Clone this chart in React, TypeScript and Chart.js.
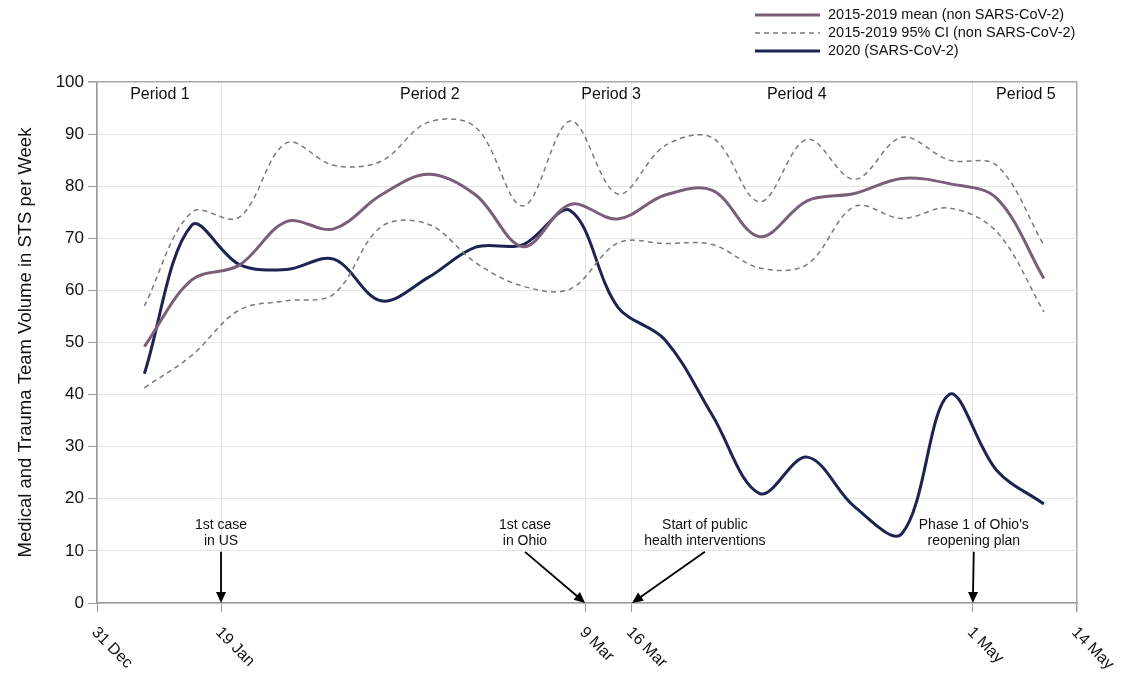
import React, { useEffect, useRef } from 'react';
import { Chart, registerables } from 'chart.js';

Chart.register(...registerables);

// ---------- data ----------
const weekIndex = [1, 2, 3, 4, 5, 6, 7, 8, 9, 10, 11, 12, 13, 14, 15, 16, 17, 18, 19, 20];
const mean2015_2019 = [49.2, 62, 64.8, 73.2, 71.8, 78.3, 82.3, 78.3, 68.4, 76.5, 73.7, 78.3, 79.2, 70.3, 77.2, 78.6, 81.5, 80.5, 77.7, 62.3];
const ciUpper = [57, 75, 74, 88.3, 84, 84.8, 92.3, 91.3, 76.2, 92.5, 78.5, 87.8, 89.3, 77, 89, 81.3, 89.4, 85, 84, 68.7];
const ciLower = [41.3, 47.5, 56.2, 58, 59.3, 72.2, 72.7, 65.3, 60.8, 60.3, 69.1, 69, 68.8, 64.3, 65, 76.1, 73.8, 75.8, 71.3, 55.9];
const sars2020 = [44, 72.5, 65, 64, 66, 58, 62.5, 68.3, 68.8, 75.3, 56.8, 50.5, 36, 21, 28, 18.5, 13.3, 40, 25.5, 19];

const xTickWeeks = [0, 2.62, 10.31, 11.3, 18.5, 20.7];
const xTickLabels = ['31 Dec', '19 Jan', '9 Mar', '16 Mar', '1 May', '14 May'];

const periodLabels = ['Period 1', 'Period 2', 'Period 3', 'Period 4', 'Period 5'];
const periodWeeks = [1.33, 7.03, 10.86, 14.78, 19.62];

const legendLabels = ['2015-2019 mean (non SARS-CoV-2)', '2015-2019 95% CI (non SARS-CoV-2)', '2020 (SARS-CoV-2)'];
const yTitle = 'Medical and Trauma Team Volume in STS per Week';

// annotations: text lines, text centre (week), arrow target (week)
const annotationTexts = [
  ['1st case', 'in US'],
  ['1st case', 'in Ohio'],
  ['Start of public', 'health interventions'],
  ["Phase 1 of Ohio's", 'reopening plan'],
];
const annotationTextWeeks = [2.62, 9.04, 12.84, 18.52];
const annotationTargetWeeks = [2.62, 10.31, 11.3, 18.5];

const FONT = "'Liberation Sans', Arial, Helvetica, sans-serif";
const MEAN_COLOR = '#7a5f78';
const CI_COLOR = '#7a7a7a';
const COVID_COLOR = '#1c2452';

function drawArrow(ctx: CanvasRenderingContext2D, x1: number, y1: number, x2: number, y2: number) {
  const dx = x2 - x1;
  const dy = y2 - y1;
  const len = Math.sqrt(dx * dx + dy * dy);
  const ux = dx / len;
  const uy = dy / len;
  const head = 11;
  const half = 5;
  ctx.save();
  ctx.strokeStyle = '#000';
  ctx.fillStyle = '#000';
  ctx.lineWidth = 1.8;
  ctx.beginPath();
  ctx.moveTo(x1, y1);
  ctx.lineTo(x2 - ux * head * 0.8, y2 - uy * head * 0.8);
  ctx.stroke();
  const bx = x2 - ux * head;
  const by = y2 - uy * head;
  ctx.beginPath();
  ctx.moveTo(x2, y2);
  ctx.lineTo(bx - uy * half, by + ux * half);
  ctx.lineTo(bx + uy * half, by - ux * half);
  ctx.closePath();
  ctx.fill();
  ctx.restore();
}

const decorPlugin = {
  id: 'decor',
  afterDraw(chart: any) {
    const ctx: CanvasRenderingContext2D = chart.ctx;
    const xs = chart.scales.x;
    const ys = chart.scales.y;
    const area = chart.chartArea;

    ctx.save();
    // x tick labels rotated +45deg
    ctx.fillStyle = '#111';
    ctx.font = `16px ${FONT}`;
    ctx.textAlign = 'left';
    ctx.textBaseline = 'middle';
    xTickWeeks.forEach((w, i) => {
      const px = xs.getPixelForValue(w);
      ctx.save();
      ctx.translate(px - 3, area.bottom + 27);
      ctx.rotate(Math.PI / 4);
      ctx.fillText(xTickLabels[i], 0, 0);
      ctx.restore();
    });

    // y title
    ctx.save();
    ctx.translate(26, (area.top + area.bottom) / 2);
    ctx.rotate(-Math.PI / 2);
    ctx.textAlign = 'center';
    ctx.textBaseline = 'middle';
    ctx.font = `18.5px ${FONT}`;
    ctx.fillText(yTitle, 0, 0);
    ctx.restore();

    // period labels
    ctx.font = `16px ${FONT}`;
    ctx.textAlign = 'center';
    ctx.textBaseline = 'middle';
    periodLabels.forEach((t, i) => {
      ctx.fillText(t, xs.getPixelForValue(periodWeeks[i]), area.top + 13);
    });

    // annotations
    ctx.font = `14px ${FONT}`;
    annotationTexts.forEach((lines, i) => {
      const cx = xs.getPixelForValue(annotationTextWeeks[i]);
      const ty = ys.getPixelForValue(15);
      lines.forEach((l, j) => ctx.fillText(l, cx, ty + j * 16.5));
      const tx = xs.getPixelForValue(annotationTargetWeeks[i]);
      drawArrow(ctx, cx, ty + 27, tx, area.bottom);
    });

    // legend
    const legendStyles = [
      { color: MEAN_COLOR, width: 3, dash: [] as number[] },
      { color: CI_COLOR, width: 1.5, dash: [5, 4] },
      { color: COVID_COLOR, width: 3, dash: [] as number[] },
    ];
    ctx.font = `14.5px ${FONT}`;
    ctx.textAlign = 'left';
    legendLabels.forEach((t, i) => {
      const y = 15 + i * 18;
      const st = legendStyles[i];
      ctx.save();
      ctx.strokeStyle = st.color;
      ctx.lineWidth = st.width;
      ctx.setLineDash(st.dash);
      ctx.beginPath();
      ctx.moveTo(755, y);
      ctx.lineTo(820, y);
      ctx.stroke();
      ctx.restore();
      ctx.fillStyle = '#111';
      ctx.fillText(t, 828, y);
    });
    ctx.restore();
  },
};

export default function App() {
  const canvasRef = useRef<HTMLCanvasElement | null>(null);

  useEffect(() => {
    document.body.style.margin = '0';
    const canvas = canvasRef.current;
    if (!canvas) return;
    const toPts = (arr: number[]) => weekIndex.map((w, i) => ({ x: w, y: arr[i] }));
    const lastTick = xTickWeeks.length - 1;
    const chart = new Chart(canvas, {
      type: 'line',
      data: {
        datasets: [
          { label: 'ci-upper', data: toPts(ciUpper), borderColor: CI_COLOR, borderWidth: 1.5, borderDash: [5, 4], pointRadius: 0, tension: 0.35, fill: false },
          { label: 'ci-lower', data: toPts(ciLower), borderColor: CI_COLOR, borderWidth: 1.5, borderDash: [5, 4], pointRadius: 0, tension: 0.35, fill: false },
          { label: legendLabels[0], data: toPts(mean2015_2019), borderColor: MEAN_COLOR, borderWidth: 3, pointRadius: 0, tension: 0.35, fill: false },
          { label: legendLabels[2], data: toPts(sars2020), borderColor: COVID_COLOR, borderWidth: 3, pointRadius: 0, tension: 0.35, fill: false },
        ],
      },
      options: {
        animation: false,
        responsive: false,
        layout: { padding: { top: 82, right: 44, left: 0, bottom: 0 } },
        plugins: { legend: { display: false }, tooltip: { enabled: false } },
        scales: {
          x: {
            type: 'linear',
            min: xTickWeeks[0],
            max: xTickWeeks[lastTick],
            afterBuildTicks: (s: any) => {
              s.ticks = xTickWeeks.map((v) => ({ value: v }));
            },
            afterFit: (s: any) => {
              s.height = 70;
            },
            ticks: { display: false },
            grid: {
              color: (c: any) => (c.index === lastTick ? '#a8a8a8' : '#e4e4e4'),
              lineWidth: (c: any) => (c.index === lastTick ? 1.5 : 1),
              tickColor: '#9a9a9a',
              tickLength: 9,
            },
            border: { color: '#9a9a9a', width: 1.5 },
          },
          y: {
            min: 0,
            max: 100,
            afterFit: (s: any) => {
              s.width = 97;
            },
            ticks: { stepSize: 10, color: '#111', font: { size: 17, family: FONT }, padding: 4 },
            grid: {
              color: (c: any) => (c.tick && c.tick.value === 100 ? '#a8a8a8' : '#e4e4e4'),
              lineWidth: (c: any) => (c.tick && c.tick.value === 100 ? 1.5 : 1),
              tickColor: '#9a9a9a',
              tickLength: 9,
            },
            border: { color: '#9a9a9a', width: 1.5 },
          },
        },
      },
      plugins: [decorPlugin],
    } as any);
    return () => chart.destroy();
  }, []);

  return (
    <div style={{ width: 1121, height: 673, background: '#fff' }}>
      <canvas ref={canvasRef} width={1121} height={673} style={{ display: 'block' }} />
    </div>
  );
}
